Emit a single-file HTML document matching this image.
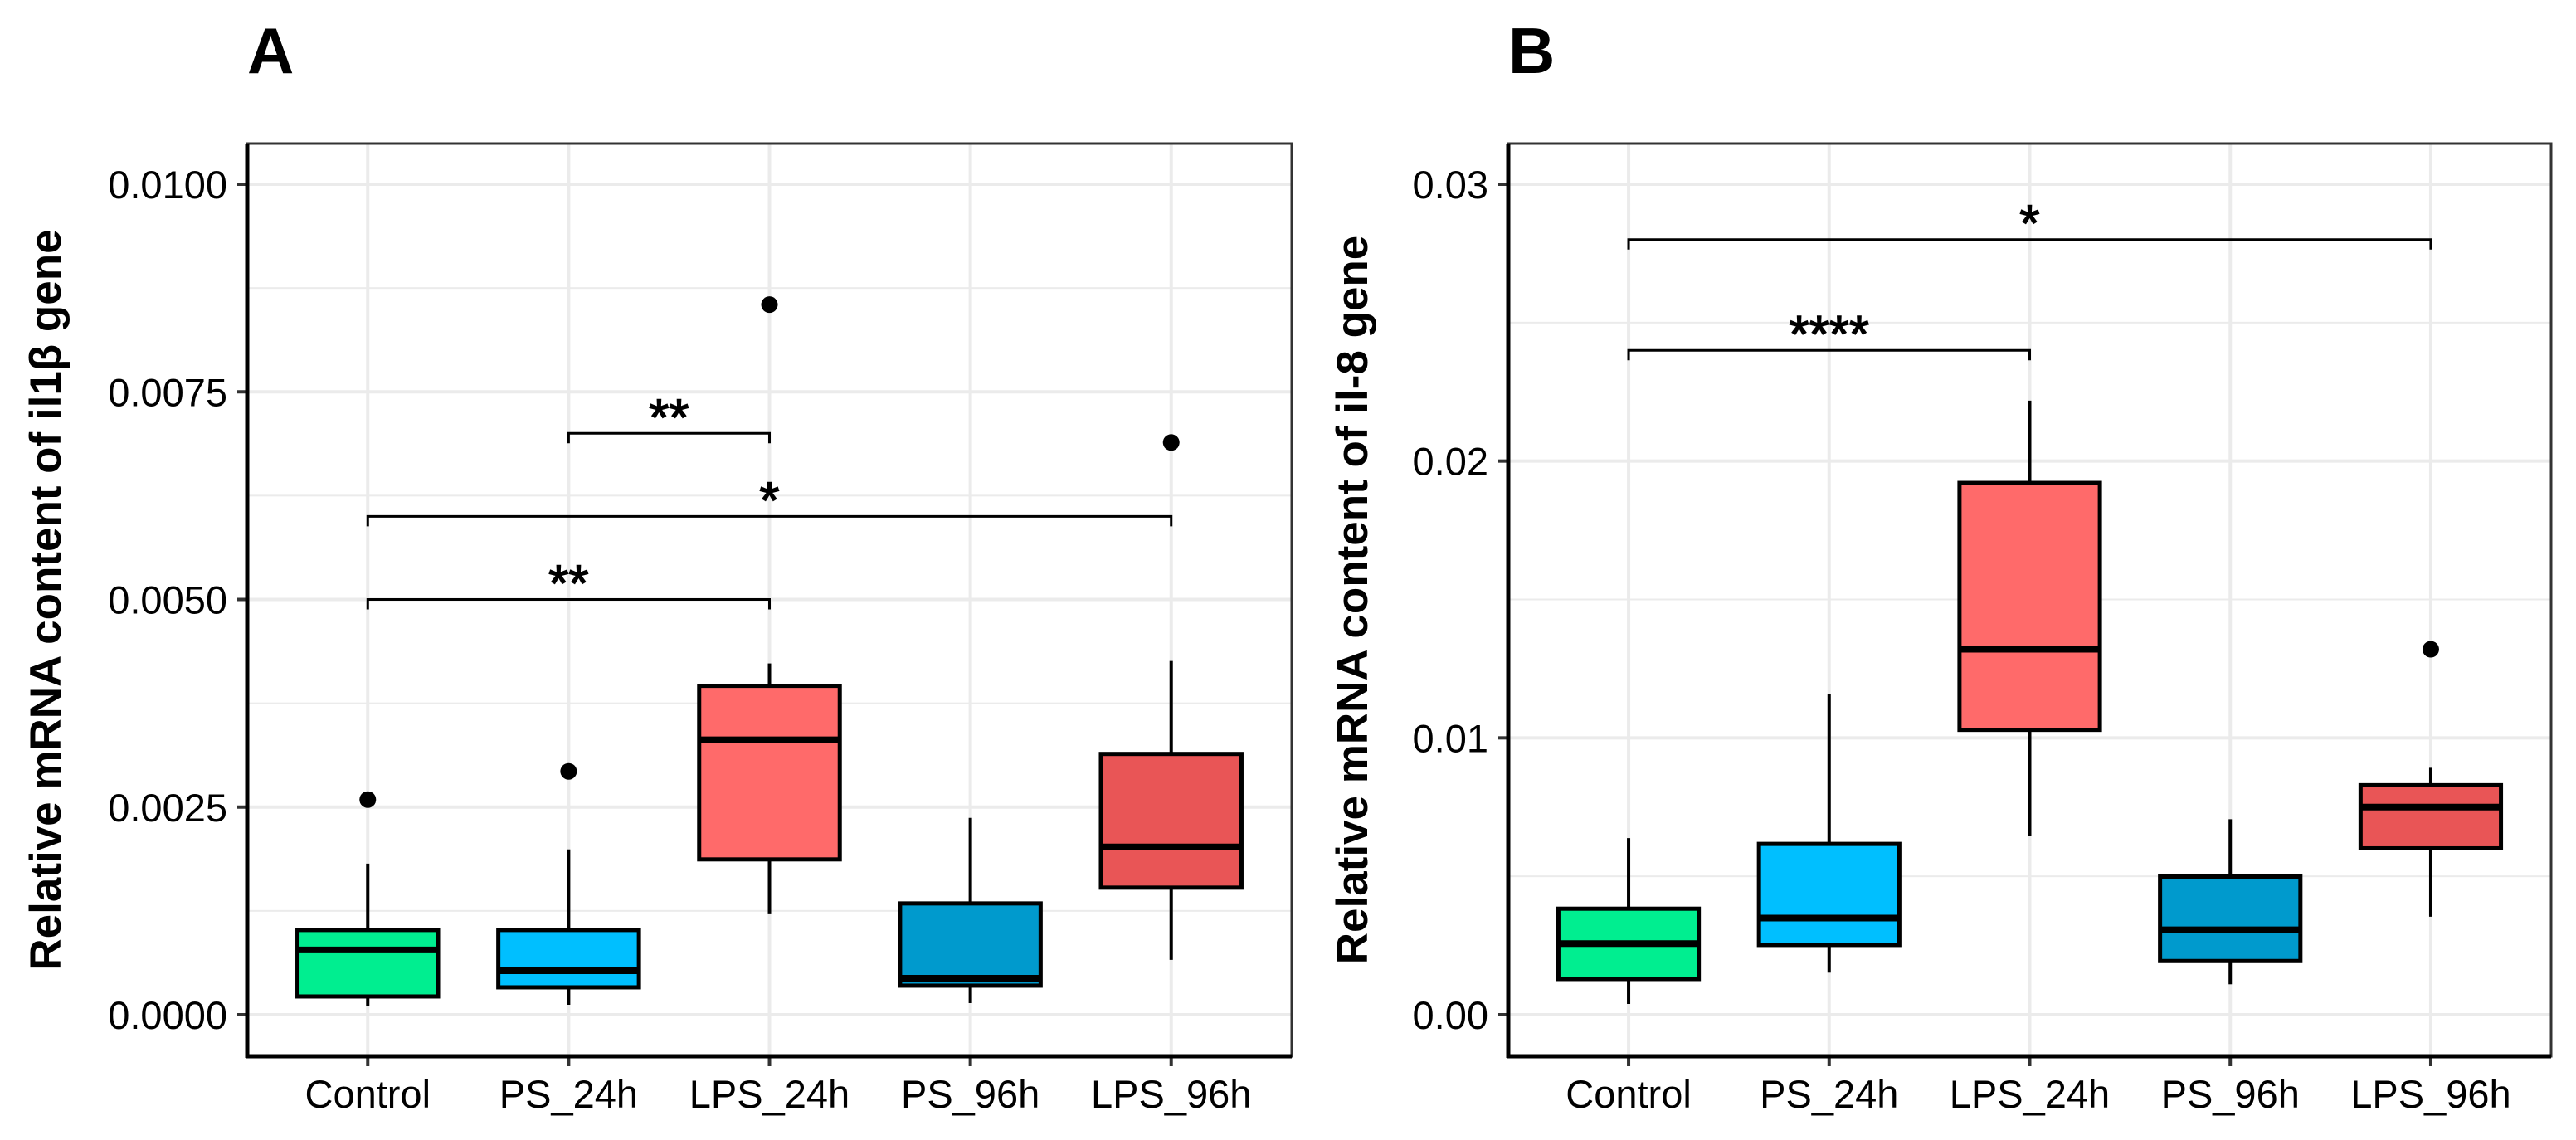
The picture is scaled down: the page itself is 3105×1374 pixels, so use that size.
<!DOCTYPE html>
<html><head><meta charset="utf-8"><style>
html,body{margin:0;padding:0;background:#fff;}
svg{display:block;font-family:"Liberation Sans",Arial,sans-serif;}
</style></head><body>
<svg id="fig" width="3105" height="1374" viewBox="0 0 3105 1374" xmlns="http://www.w3.org/2000/svg"></svg>
<script>
const categories = ["Control","PS_24h","LPS_24h","PS_96h","LPS_96h"];
const colors = ["#00EE90","#00BFFF","#FF6A6A","#009ACD","#E95556"];
// panel A (il1b): [whiskerLow, Q1, median, Q3, whiskerHigh]
const statsA = [
  [0.00011,0.00022,0.00078,0.00102,0.00182],
  [0.00012,0.00033,0.00053,0.00102,0.00199],
  [0.00121,0.00187,0.00331,0.00396,0.00423],
  [0.00014,0.00035,0.00044,0.00134,0.00237],
  [0.00066,0.00153,0.00202,0.00314,0.00426]
];
const outliersA = [[0.00259],[0.00293],[0.00855],[],[0.00689]];
const ticksA = [0,0.0025,0.005,0.0075,0.01];
const tickLabelsA = ["0.0000","0.0025","0.0050","0.0075","0.0100"];
const bracketsA = [[1,2,0.0070,"**"],[0,4,0.0060,"*"],[0,2,0.0050,"**"]];
// panel B (il-8)
const statsB = [
  [0.00039,0.00129,0.00257,0.00383,0.00638],
  [0.00152,0.00252,0.00349,0.00617,0.01157],
  [0.00646,0.01029,0.0132,0.01921,0.02218],
  [0.0011,0.00194,0.00307,0.00499,0.00706],
  [0.00354,0.00601,0.0075,0.00829,0.00892]
];
const outliersB = [[],[],[],[],[0.0132]];
const ticksB = [0,0.01,0.02,0.03];
const tickLabelsB = ["0.00","0.01","0.02","0.03"];
const bracketsB = [[0,4,0.028,"*"],[0,2,0.024,"****"]];

const NS="http://www.w3.org/2000/svg";
const svg=document.getElementById('fig');
function mk(tag,attrs,parent,text){const e=document.createElementNS(NS,tag);for(const k in attrs)e.setAttribute(k,attrs[k]);if(text!==undefined)e.textContent=text;(parent||svg).appendChild(e);return e;}

function panel(cfg){
  const g=mk('g',{});
  
  
  const L=cfg.left,R=cfg.right,T=173,B=1273;
  const y0=1223,y1=222;
  const ys=v=>y0+(y1-y0)*(v/cfg.ymaxTick);
  const step=(R-L)/5.2;
  const xs=i=>L+step*(0.6+i);
  for(let i=0;i<cfg.ticks.length-1;i++){
    const v=(cfg.ticks[i]+cfg.ticks[i+1])/2;
    const l=mk('line',{x1:L,x2:R,y1:ys(v),y2:ys(v),stroke:'#EBEBEB','stroke-width':2},g);
    
    
  }
  const vb=ys(cfg.ticks[cfg.ticks.length-1]+(cfg.ticks[1]-cfg.ticks[0])/2);
  if(vb>T){const l=mk('line',{x1:L,x2:R,y1:vb,y2:vb,stroke:'#EBEBEB','stroke-width':2},g);
    
    }
  cfg.ticks.forEach((v,i)=>{
    const l=mk('line',{x1:L,x2:R,y1:ys(v),y2:ys(v),stroke:'#EBEBEB','stroke-width':4},g);
    
    
    const t=mk('line',{x1:L-12,x2:L,y1:ys(v),y2:ys(v),stroke:'#333','stroke-width':4},g);
    
    
    const tx=mk('text',{x:L-24,y:ys(v)+17,'text-anchor':'end','font-size':47,fill:'#000'},g,cfg.tickLabels[i]);
    
    
  });
  categories.forEach((c,i)=>{
    const l=mk('line',{x1:xs(i),x2:xs(i),y1:T,y2:B,stroke:'#EBEBEB','stroke-width':4},g);
    
    
    const t=mk('line',{x1:xs(i),x2:xs(i),y1:B,y2:B+12,stroke:'#333','stroke-width':4},g);
    
    
    const tx=mk('text',{x:xs(i),y:1335,'text-anchor':'middle','font-size':47,fill:'#000'},g,c);
    
    
  });
  const bw=step*0.7;
  cfg.stats.forEach((s,i)=>{
    const bg=mk('g',{},g);
    
    
    const x=xs(i);
    mk('line',{x1:x,x2:x,y1:ys(s[0]),y2:ys(s[1]),stroke:'#000','stroke-width':4},bg);
    mk('line',{x1:x,x2:x,y1:ys(s[3]),y2:ys(s[4]),stroke:'#000','stroke-width':4},bg);
    mk('rect',{x:x-bw/2,y:ys(s[3]),width:bw,height:ys(s[1])-ys(s[3]),fill:colors[i],stroke:'#000','stroke-width':5},bg);
    mk('line',{x1:x-bw/2,x2:x+bw/2,y1:ys(s[2]),y2:ys(s[2]),stroke:'#000','stroke-width':8},bg);
    cfg.outliers[i].forEach(o=>{
      const c=mk('circle',{cx:x,cy:ys(o),r:10,fill:'#000'},bg);
      
      
    });
  });
  cfg.brackets.forEach(b=>{
    const bg=mk('g',{},g);
    
    
    const xa=xs(b[0]),xb=xs(b[1]),y=ys(b[2]);
    mk('path',{d:`M${xa},${y+12}V${y}H${xb}V${y+12}`,fill:'none',stroke:'#000','stroke-width':3},bg);
    mk('text',{x:(xa+xb)/2,y:y+2,'text-anchor':'middle','font-size':62,fill:'#000',stroke:'#000','stroke-width':1.5},bg,b[3]);
  });
  const br=mk('rect',{x:L,y:T,width:R-L,height:B-T,fill:'none',stroke:'#333','stroke-width':3},g);
  
  
  mk('line',{x1:L,x2:L,y1:T,y2:B+2,stroke:'#000','stroke-width':5},g);
  mk('line',{x1:L-2,x2:R,y1:B,y2:B,stroke:'#000','stroke-width':5},g);
  const yt=mk('text',{transform:`translate(${cfg.titleX},723) rotate(-90)`,'text-anchor':'middle','font-size':53,'font-weight':'bold',fill:'#000'},g,cfg.title);
  
  
  const pl=mk('text',{x:cfg.labelX,y:88,'font-size':78,'font-weight':'bold',fill:'#000'},g,cfg.label);
  
  
}
panel({name:'panel-a-il1b',left:298,right:1557,ymaxTick:0.01,ticks:ticksA,tickLabels:tickLabelsA,stats:statsA,outliers:outliersA,brackets:bracketsA,title:'Relative mRNA content of il1β gene',titleX:73,label:'A',labelX:298});
panel({name:'panel-b-il8',left:1818,right:3075,ymaxTick:0.03,ticks:ticksB,tickLabels:tickLabelsB,stats:statsB,outliers:outliersB,brackets:bracketsB,title:'Relative mRNA content of il-8 gene',titleX:1648,label:'B',labelX:1818});
</script>
</body></html>
